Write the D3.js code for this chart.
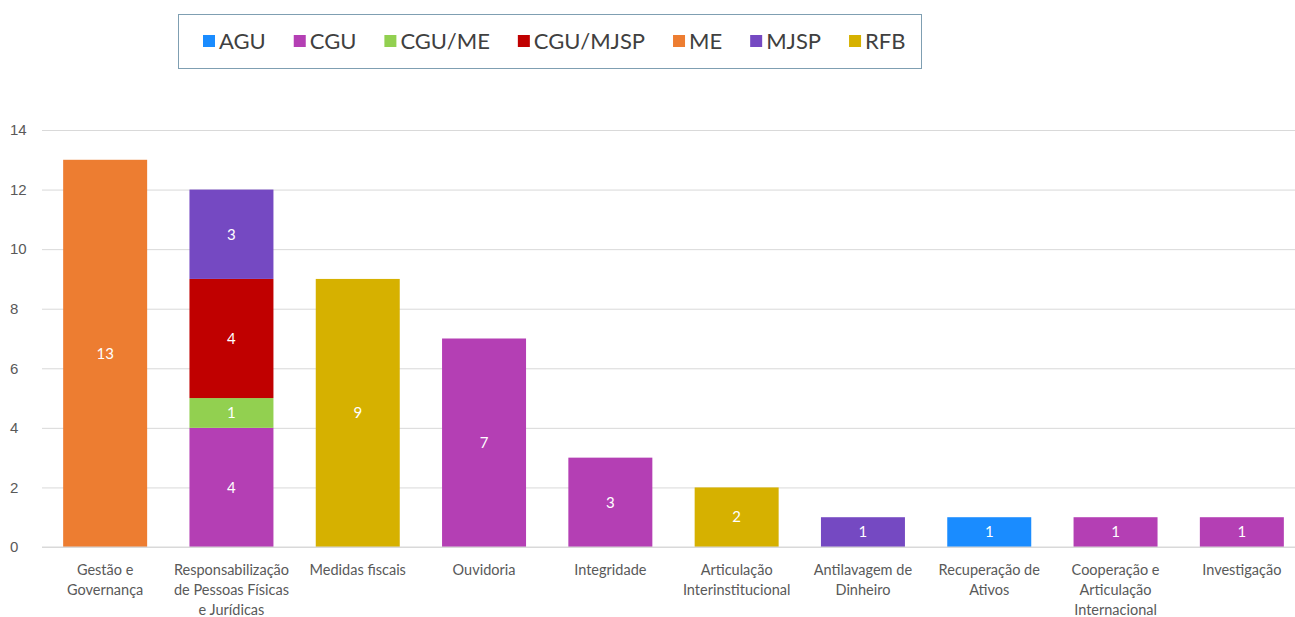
<!DOCTYPE html>
<html>
<head>
<meta charset="utf-8">
<script src="https://cdn.jsdelivr.net/npm/d3@7"></script>
<style>
  body { margin: 0; background: #fff; }
  svg { font-family: Lato, "Open Sans", sans-serif; }
</style>
</head>
<body>
<div id="chart"></div>
<script>
"use strict";

// categories, each label split into its display lines
const categories = [
  ["Gestão e", "Governança"],
  ["Responsabilização", "de Pessoas Físicas", "e Jurídicas"],
  ["Medidas fiscais"],
  ["Ouvidoria"],
  ["Integridade"],
  ["Articulação", "Interinstitucional"],
  ["Antilavagem de", "Dinheiro"],
  ["Recuperação de", "Ativos"],
  ["Cooperação e", "Articulação", "Internacional"],
  ["Investigação"]
];

const seriesNames = ["AGU", "CGU", "CGU/ME", "CGU/MJSP", "ME", "MJSP", "RFB"];
const seriesColors = ["#1a8cff", "#b43fb4", "#92d050", "#c00000", "#ed7d31", "#7549c2", "#d6b100"];

const agu     = [0, 0, 0, 0, 0, 0, 0, 1, 0, 0];
const cgu     = [0, 4, 0, 7, 3, 0, 0, 0, 1, 1];
const cguMe   = [0, 1, 0, 0, 0, 0, 0, 0, 0, 0];
const cguMjsp = [0, 4, 0, 0, 0, 0, 0, 0, 0, 0];
const me      = [13, 0, 0, 0, 0, 0, 0, 0, 0, 0];
const mjsp    = [0, 3, 0, 0, 0, 0, 1, 0, 0, 0];
const rfb     = [0, 0, 9, 0, 0, 2, 0, 0, 0, 0];

const yTicks = [0, 2, 4, 6, 8, 10, 12, 14];

const width = 1295, height = 617;
const seriesValues = [agu, cgu, cguMe, cguMjsp, me, mjsp, rfb];

// build a table for d3.stack
const rows = categories.map(function(c, i) {
  let r = { key: i };
  seriesNames.forEach(function(s, j) { r[s] = seriesValues[j][i]; });
  return r;
});
const stacked = d3.stack().keys(seriesNames)(rows);

let svg = d3.select("#chart").append("svg")
  .attr("width", width)
  .attr("height", height);

let x = d3.scaleBand()
  .domain(d3.range(categories.length))
  .range([42, 1305])
  .paddingInner(0.335)
  .paddingOuter(0.1675);

let y = d3.scaleLinear()
  .domain([0, 14])
  .range([547, 130]);

// gridlines + y labels
let yAxis = svg.append("g")
  .attr("transform", "translate(42,0)")
  .call(d3.axisLeft(y).tickValues(yTicks).tickSize(-(width - 42)).tickPadding(14));
yAxis.select(".domain").remove();
yAxis.selectAll(".tick line").attr("stroke", "#d9d9d9").attr("stroke-width", 1);
yAxis.selectAll(".tick text")
  .attr("fill", "#595959")
  .style("font-size", "15px")
  .attr("text-anchor", "start")
  .attr("x", -32);

// bars
let layer = svg.append("g").selectAll("g")
  .data(stacked)
  .join("g")
  .attr("fill", function(d, i) { return seriesColors[i]; });

layer.selectAll("rect")
  .data(function(d) { return d.filter(function(p) { return p[1] - p[0] > 0; }); })
  .join("rect")
  .attr("x", function(p) { return x(p.data.key); })
  .attr("y", function(p) { return y(p[1]); })
  .attr("width", x.bandwidth())
  .attr("height", function(p) { return y(p[0]) - y(p[1]); });

// data labels
layer.selectAll("text")
  .data(function(d) { return d.filter(function(p) { return p[1] - p[0] > 0; }); })
  .join("text")
  .attr("x", function(p) { return x(p.data.key) + x.bandwidth() / 2; })
  .attr("y", function(p) { return y((p[0] + p[1]) / 2); })
  .attr("dy", "0.35em")
  .attr("text-anchor", "middle")
  .attr("fill", "#fff")
  .style("font-size", "15px")
  .text(function(p) { return p[1] - p[0]; });

// x axis line
svg.append("line")
  .attr("x1", 42).attr("x2", width)
  .attr("y1", y(0)).attr("y2", y(0))
  .attr("stroke", "#d9d9d9");

// category labels
let xl = svg.append("g").selectAll("text")
  .data(categories)
  .join("text")
  .attr("x", function(d, i) { return x(i) + x.bandwidth() / 2; })
  .attr("y", 575)
  .attr("text-anchor", "middle")
  .attr("fill", "#595959")
  .style("font-size", "14.5px");
xl.selectAll("tspan")
  .data(function(d) { return d; })
  .join("tspan")
  .attr("x", function() { return this.parentNode.getAttribute("x"); })
  .attr("dy", function(d, i) { return i === 0 ? 0 : 20; })
  .text(function(d) { return d; });

// legend
let legend = svg.append("g");
legend.append("rect")
  .attr("x", 178.5).attr("y", 14.5)
  .attr("width", 743).attr("height", 54)
  .attr("fill", "#fff")
  .attr("stroke", "#7f9fb2");

let lx = 203;
seriesNames.forEach(function(s, i) {
  legend.append("rect")
    .attr("x", lx).attr("y", 35)
    .attr("width", 12).attr("height", 12)
    .attr("fill", seriesColors[i]);
  let t = legend.append("text")
    .attr("x", lx + 16).attr("y", 41)
    .attr("dy", "0.35em")
    .attr("fill", "#404040")
    .style("font-size", "22px")
    .text(s);
  lx += 16 + t.node().getComputedTextLength() + 28;
});
</script>
</body>
</html>
